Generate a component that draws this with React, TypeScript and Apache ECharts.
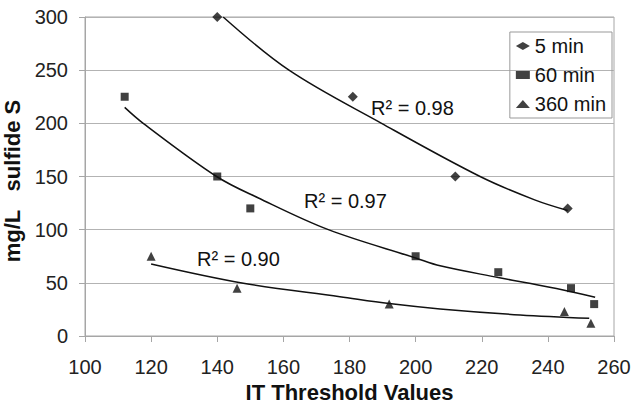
import React, { useEffect, useRef } from "react";
import * as echarts from "echarts";

// Measured points
const min5X = [140, 181, 212, 246];
const min5Y = [300, 225, 150, 120];
const min60X = [112, 140, 150, 200, 225, 247, 254];
const min60Y = [225, 150, 120, 75, 60, 45, 30];
const min360X = [120, 146, 192, 245, 253];
const min360Y = [75, 45, 30, 23, 12];

// Trendlines
const trend5X = [141.8, 161.7, 189.7, 219.5, 236, 246];
const trend5Y = [300, 250, 200, 150, 128, 118];
const trend60X = [112, 117.6, 139.8, 152.3, 173.6, 200, 207.4, 225, 233.5, 247, 254.3];
const trend60Y = [215, 200, 150, 130, 100, 73.4, 66, 55, 50, 41.7, 36.4];
const trend360X = [120, 147.9, 177.1, 192, 207.4, 231.6, 252.5];
const trend360Y = [67.7, 49.6, 37, 30.5, 25.5, 19.8, 16.6];

const seriesNames = ["5 min", "60 min", "360 min"];
const r2Labels = ["R² = 0.98", "R² = 0.97", "R² = 0.90"];
const xName = "IT Threshold Values";
const yName = "mg/L\u00a0\u00a0\u00a0sulfide S";

const FONT = '"Liberation Sans", Arial, sans-serif';

const zip = (xs: number[], ys: number[]) => xs.map((x, i) => [x, ys[i]]);

export default function App() {
  const ref = useRef<HTMLDivElement>(null);
  useEffect(() => {
    if (!ref.current) return;
    const chart = echarts.init(ref.current, null, { renderer: "svg" });
    const trendStyle = { color: "#111", width: 1.5 };
    const trend = (name: string, data: number[][]) => ({
      name,
      type: "line",
      showSymbol: false,
      symbol: "none",
      smooth: 0.35,
      lineStyle: trendStyle,
      data,
      z: 2,
    });
    chart.setOption({
      animation: false,
      backgroundColor: "#fff",
      textStyle: { fontFamily: FONT },
      grid: {
        left: 85,
        right: 18,
        top: 17,
        bottom: 68,
        containLabel: false,
        outerBoundsMode: "none",
        show: true,
        borderColor: "#a6a6a6",
        borderWidth: 1,
        backgroundColor: "transparent",
      },
      legend: {
        orient: "vertical",
        right: 20,
        top: 32,
        padding: [4, 6, 4, 6],
        itemWidth: 14,
        itemHeight: 8,
        itemGap: 9,
        borderColor: "#999",
        borderWidth: 1,
        textStyle: { fontSize: 20, color: "#111", fontFamily: FONT },
        data: [
          { name: seriesNames[0], icon: "diamond" },
          { name: seriesNames[1], icon: "rect" },
          { name: seriesNames[2], icon: "triangle" },
        ],
      },
      xAxis: {
        type: "value",
        min: 100,
        max: 260,
        interval: 20,
        name: xName,
        nameLocation: "middle",
        nameGap: 45,
        nameTextStyle: { fontSize: 22, fontWeight: "bold", color: "#111", fontFamily: FONT },
        axisLine: { show: true, lineStyle: { color: "#a6a6a6", width: 1 } },
        axisTick: { show: true, inside: false, length: 6, lineStyle: { color: "#a6a6a6" } },
        axisLabel: { fontSize: 20, color: "#222", margin: 21, fontFamily: FONT },
        splitLine: { show: false },
      },
      yAxis: {
        type: "value",
        min: 0,
        max: 300,
        interval: 50,
        name: yName,
        nameLocation: "middle",
        nameGap: 53,
        nameTextStyle: { fontSize: 22, fontWeight: "bold", color: "#111", fontFamily: FONT, padding: [0, 9, 0, 0] },
        axisLine: { show: true, lineStyle: { color: "#a6a6a6", width: 1 } },
        axisTick: { show: true, inside: false, length: 6, lineStyle: { color: "#a6a6a6" } },
        axisLabel: { fontSize: 20, color: "#222", margin: 17, fontFamily: FONT },
        splitLine: { show: true, lineStyle: { color: "#b3b3b3", width: 1 } },
      },
      series: [
        {
          name: seriesNames[0],
          type: "scatter",
          symbol: "diamond",
          symbolSize: 10,
          itemStyle: { color: "#111" },
          data: zip(min5X, min5Y),
          z: 3,
        },
        {
          name: seriesNames[1],
          type: "scatter",
          symbol: "rect",
          symbolSize: 8,
          itemStyle: { color: "#111" },
          data: zip(min60X, min60Y),
          z: 3,
        },
        {
          name: seriesNames[2],
          type: "scatter",
          symbol: "triangle",
          symbolSize: 9,
          itemStyle: { color: "#111" },
          data: zip(min360X, min360Y),
          z: 3,
        },
        trend("trend 5", zip(trend5X, trend5Y)),
        trend("trend 60", zip(trend60X, trend60Y)),
        trend("trend 360", zip(trend360X, trend360Y)),
      ],
      graphic: [
        {
          type: "text",
          x: 371,
          y: 108,
          style: { text: r2Labels[0], fontSize: 20, fontFamily: FONT, fill: "#111", verticalAlign: "middle", align: "left" },
        },
        {
          type: "text",
          x: 304,
          y: 201,
          style: { text: r2Labels[1], fontSize: 20, fontFamily: FONT, fill: "#111", verticalAlign: "middle", align: "left" },
        },
        {
          type: "text",
          x: 197,
          y: 259,
          style: { text: r2Labels[2], fontSize: 20, fontFamily: FONT, fill: "#111", verticalAlign: "middle", align: "left" },
        },
      ],
    });
    return () => chart.dispose();
  }, []);
  return <div ref={ref} style={{ position: "absolute", left: 0, top: 0, width: 632, height: 404 }} />;
}
